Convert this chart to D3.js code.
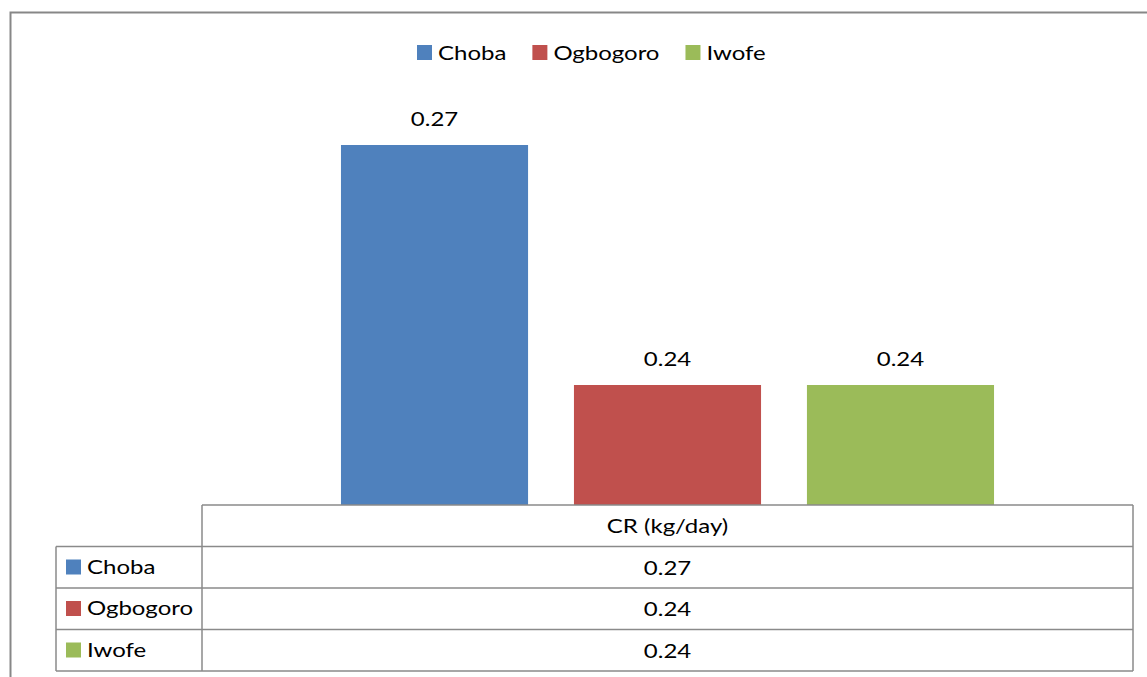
<!DOCTYPE html>
<html>
<head>
<meta charset="utf-8">
<script src="https://cdn.jsdelivr.net/npm/d3@7"></script>
<style>
  html, body { margin: 0; padding: 0; background: #fff; }
  svg { display: block; }
  text { font-family: "Lato", "Open Sans", sans-serif; fill: #000; }
</style>
</head>
<body>
<svg id="chart" width="1147" height="677"></svg>
<script>
// Consumption rate by location
const seriesNames = ["Choba", "Ogbogoro", "Iwofe"];
const seriesValues = [0.27, 0.24, 0.24];
const categoryLabel = "CR (kg/day)";
const seriesColors = ["#4F81BD", "#C0504D", "#9BBB59"];
const valueDomain = [0.225, 0.275];

const svg = d3.select("#chart");
const W = 1147, H = 677;
const FONT = 20;
const TEXT_STRETCH = 1.2;   // widen glyphs horizontally
const gridColor = "#8a8a8a";

// place a text label, stretched horizontally around its anchor point
function label(parent, x, y, str, anchor = "start") {
  const g = parent.append("g")
    .attr("transform", `translate(${x},${y}) scale(${TEXT_STRETCH},1)`);
  const t = g.append("text")
    .attr("text-anchor", anchor)
    .attr("font-size", FONT)
    .text(str);
  return t.node().getComputedTextLength() * TEXT_STRETCH;
}

// frame
svg.append("rect")
  .attr("x", 10.5).attr("y", 12.5)
  .attr("width", W + 20).attr("height", H + 20)
  .attr("fill", "none").attr("stroke", "#878787").attr("stroke-width", 2);

// plot area
const plot = { left: 202, right: 1133, top: 105, bottom: 505 };

const x = d3.scaleBand()
  .domain(seriesNames)
  .range([plot.left, plot.right])
  .paddingInner(0.197)
  .paddingOuter(0.5965);

const y = d3.scaleLinear()
  .domain(valueDomain)
  .range([plot.bottom, plot.top]);

const data = seriesNames.map((name, i) => ({ name, value: seriesValues[i], color: seriesColors[i] }));

svg.append("g").selectAll("rect")
  .data(data).join("rect")
  .attr("x", d => x(d.name))
  .attr("y", d => y(d.value))
  .attr("width", x.bandwidth())
  .attr("height", d => y(valueDomain[0]) - y(d.value))
  .attr("fill", d => d.color);

const fmt = d3.format(".2f");
const valueLabels = svg.append("g");
data.forEach(d => {
  label(valueLabels, x(d.name) + x.bandwidth() / 2, y(d.value) - 19, fmt(d.value), "middle");
});

// legend
const legend = svg.append("g");
let lx = 417;
data.forEach(d => {
  legend.append("rect")
    .attr("x", lx).attr("y", 45).attr("width", 15).attr("height", 15)
    .attr("fill", d.color);
  const w = label(legend, lx + 21, 60, d.name);
  lx += 21 + w + 26;
});

// data table
const rowTop = [505, 546.5, 588, 629.5, 671];
const labelLeft = 56;
const table = svg.append("g")
  .attr("fill", "none").attr("stroke", gridColor).attr("stroke-width", 1.5);

table.append("line").attr("x1", plot.left).attr("x2", plot.right).attr("y1", rowTop[0]).attr("y2", rowTop[0]);
rowTop.slice(1).forEach(yy => {
  table.append("line").attr("x1", labelLeft).attr("x2", plot.right).attr("y1", yy).attr("y2", yy);
});
table.append("line").attr("x1", plot.left).attr("x2", plot.left).attr("y1", rowTop[0]).attr("y2", rowTop[4]);
table.append("line").attr("x1", plot.right).attr("x2", plot.right).attr("y1", rowTop[0]).attr("y2", rowTop[4]);
table.append("line").attr("x1", labelLeft).attr("x2", labelLeft).attr("y1", rowTop[1]).attr("y2", rowTop[4]);

const cx = (plot.left + plot.right) / 2;
const cells = svg.append("g");
label(cells, cx, rowTop[0] + 28, categoryLabel, "middle");

data.forEach((d, i) => {
  const top = rowTop[i + 1];
  cells.append("rect")
    .attr("x", 66).attr("y", top + 13).attr("width", 15).attr("height", 15)
    .attr("fill", d.color);
  label(cells, 87, top + 27, d.name);
  label(cells, cx, top + 28, fmt(d.value), "middle");
});
</script>
</body>
</html>
